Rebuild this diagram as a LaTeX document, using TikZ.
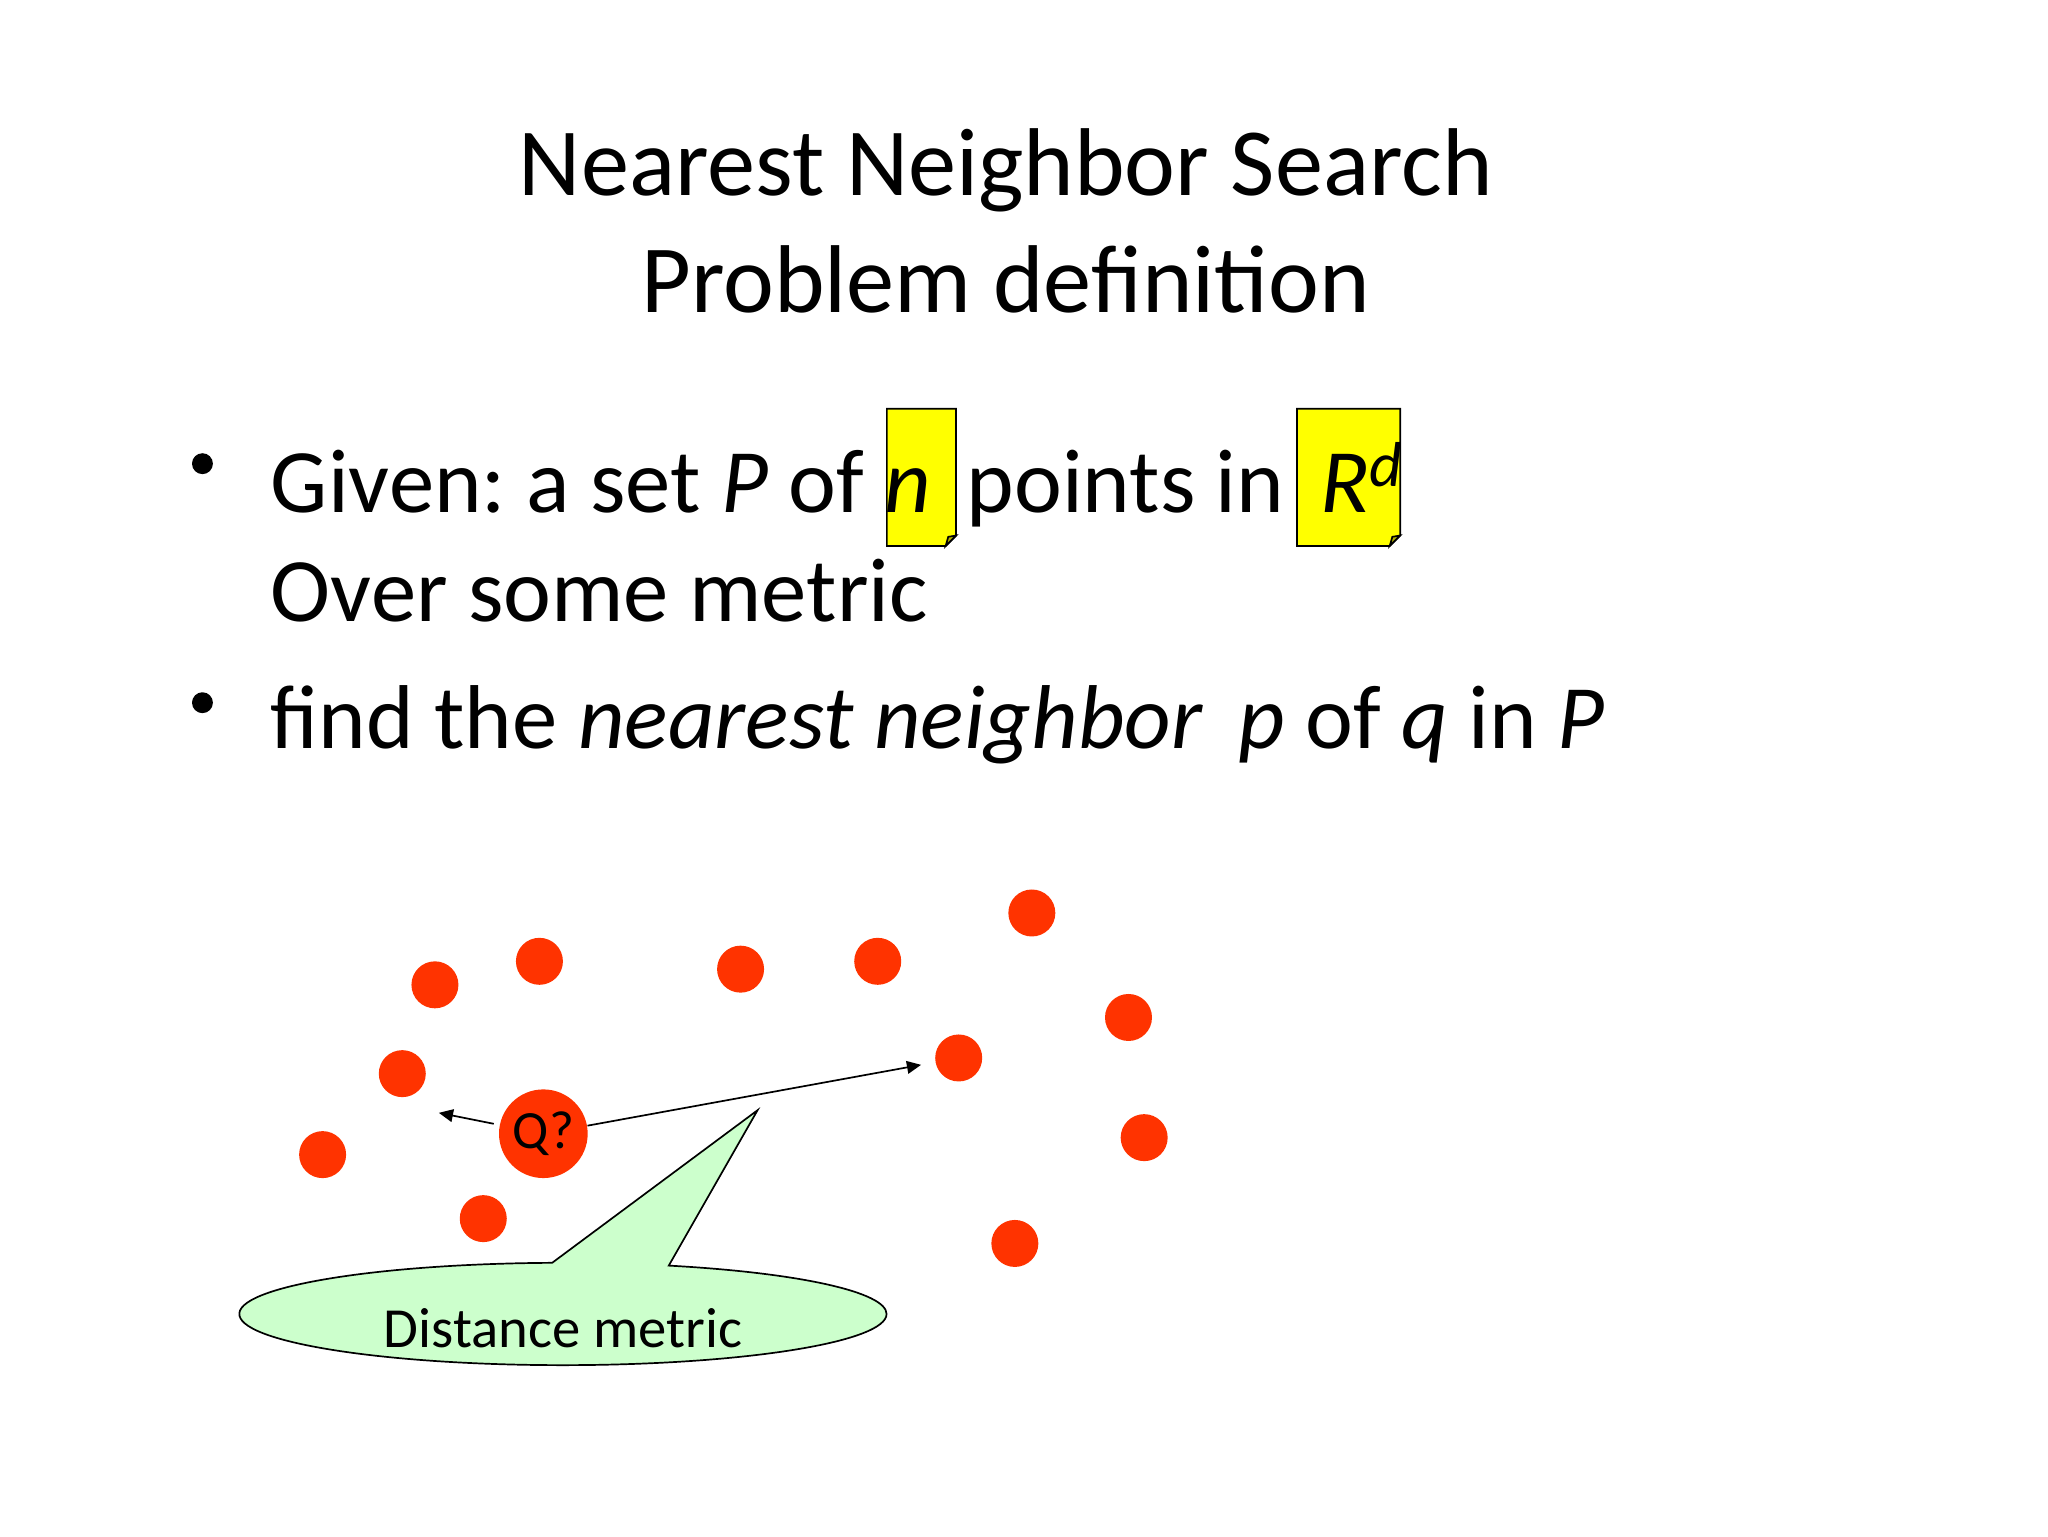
\documentclass[tikz,border=0pt]{standalone}
\usepackage{fontspec}
\setmainfont{Carlito}
\frenchspacing
\usetikzlibrary{shapes,shapes.callouts,arrows.meta}
\definecolor{ptred}{RGB}{255,51,0}
\definecolor{notey}{RGB}{255,255,0}
\definecolor{callg}{RGB}{204,255,204}
\tikzstyle{pt}=[circle,fill=ptred,minimum size=.583cm,inner sep=0pt]
\tikzstyle{ln}=[anchor=base west,inner sep=0pt,font=\fontsize{32}{38}\selectfont]
\tikzstyle{ttl}=[anchor=base,inner sep=0pt,font=\fontsize{34}{40}\selectfont]
\tikzstyle{arr}=[-{Triangle[length=5pt,width=4.5pt]},line width=.6pt]
\tikzstyle{note}=[draw=black,fill=notey,line width=.6pt]

\begin{document}
\begin{tikzpicture}[x=.0162cm,y=-.0162cm]
\useasboundingbox (0,0) rectangle (1568,1176);
% title
\node[ttl] (title1) at (770,150) {Nearest Neighbor Search};
\node[ttl] (title2) at (770,239) {Problem definition};
% yellow notes
\draw[note] (679,313) -- (732,313) -- (732,410) -- (724,418) -- (679,418) -- cycle;
\draw[note,fill=notey!70!black] (724,418) -- (726,411) -- (732,410) -- cycle;
\draw[note] (993,313) -- (1072,313) -- (1072,410) -- (1064,418) -- (993,418) -- cycle;
\draw[note,fill=notey!70!black] (1064,418) -- (1066,411) -- (1072,410) -- cycle;
% bullets
\fill (155,355) circle (8); \fill (155,538) circle (8);
\node[ln] (given) at (207,392) {Given: a set \textit{P} of \textit{n}\, points in \,\textit{R\textsuperscript{d}}};
\node[ln] (over) at (207,476) {Over some metric};
\node[ln] (find) at (207,573) {find the \textit{nearest neighbor}\, \textit{p} of \textit{q} in \textit{P}};
% point set
\node[pt] (d1) at (333,754) {}; \node[pt] (d2) at (413,736) {}; \node[pt] (d3) at (567,742) {}; \node[pt] (d4) at (672,736) {};
\node[pt] (d5) at (790,699) {}; \node[pt] (d6) at (864,779) {}; \node[pt] (d7) at (734,810) {}; \node[pt] (d8) at (308,822) {};
\node[pt] (d9) at (247,884) {}; \node[pt] (d10) at (370,933) {}; \node[pt] (d11) at (876,871) {}; \node[pt] (d12) at (777,952) {};
\node[pt,minimum size=1.1cm,font=\fontsize{19}{21}\selectfont] (q) at (416,868) {Q?};
\coordinate (near) at (336,852);
\draw[arr,shorten <=2pt] (q) -- (near);
\draw[arr,shorten >=5pt] (q) -- (d7);
% callout
\node[ellipse callout,draw=black,fill=callg,line width=.6pt,minimum width=8.03cm,minimum height=1.27cm,
  callout absolute pointer={(580,850)},callout pointer arc=21,text height=.83cm,text depth=0pt,inner ysep=0pt,
  font=\fontsize{20}{24}\selectfont] (metric) at (431,1006) {Distance metric};
\end{tikzpicture}
\end{document}
